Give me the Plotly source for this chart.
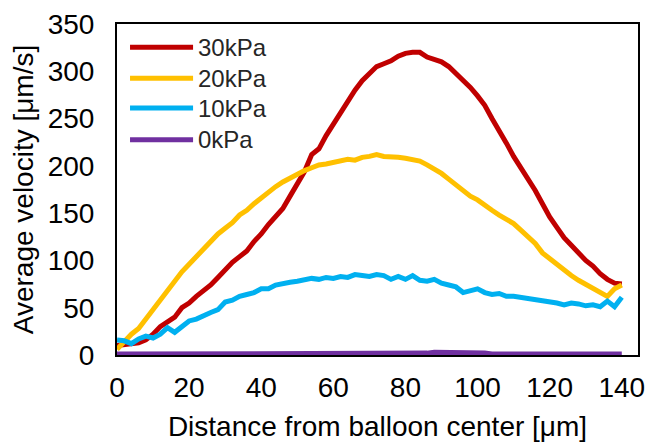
import plotly.graph_objects as go

# Distance from balloon center [μm]
distance = list(range(0, 141, 2))

series_names = ["30kPa", "20kPa", "10kPa", "0kPa"]
series_colors = ["#C00000", "#FFC000", "#00B0F0", "#7030A0"]

v30 = [10, 11, 12, 13, 16, 22, 30, 35, 40, 50, 55, 62, 68, 74, 82, 90, 98, 104, 110, 120,
       128, 138, 146, 155, 168, 180, 194, 212, 218, 232, 244, 258, 268, 280, 290, 298, 305, 308,
       311, 316, 319, 320, 320, 315, 312, 310, 305, 298, 291, 283, 274, 264, 250, 238, 224, 210,
       198, 188, 174, 160, 146, 135, 124, 116, 108, 100, 94, 86, 80, 76, 75]
v20 = [6, 15, 22, 28, 38, 50, 58, 70, 78, 88, 96, 104, 112, 120, 128, 134, 140, 148, 153, 160,
       166, 173, 178, 183, 187, 192, 195, 198, 201, 202, 204, 205, 207, 206, 209, 210, 212, 210,
       210, 209, 208, 207, 205, 201, 197, 192, 186, 180, 174, 168, 164, 158, 153, 148, 143, 139,
       132, 125, 118, 108, 102, 95, 89, 84, 79, 75, 71, 66, 62, 70, 74]
v10 = [16, 15, 12, 17, 20, 18, 22, 29, 24, 30, 36, 38, 42, 45, 48, 56, 58, 62, 64, 66,
       70, 70, 74, 76, 77, 78, 80, 81, 80, 82, 81, 83, 82, 85, 84, 83, 85, 84, 80, 83,
       80, 84, 79, 78, 80, 76, 74, 72, 66, 68, 70, 66, 64, 65, 62, 62, 61, 60, 59, 57,
       56, 55, 53, 55, 54, 52, 53, 51, 57, 51, 61]
v0 = [1, 1, 1, 1, 1, 1, 1, 1, 1, 1, 2, 1, 1, 1, 1, 1, 1, 1, 1, 1,
      1, 1, 1, 1, 1, 1, 1, 1, 1, 1, 1, 1, 1, 1, 1, 1, 1, 1, 1, 1,
      2, 2, 2, 2, 3, 3, 3, 2, 2, 2, 2, 2, 1, 1, 1, 1, 1, 1, 1, 1,
      1, 1, 1, 1, 1, 1, 1, 1, 1, 1, 1]

y_ticks = [0, 50, 100, 150, 200, 250, 300, 350]
x_ticks = [0, 20, 40, 60, 80, 100, 120, 140]

x_title = "Distance from balloon center [μm]"
y_title = "Average velocity [μm/s]"

FONT = "Liberation Sans, Arial, sans-serif"

fig = go.Figure()
all_series = [v30, v20, v10, v0]
for name, color, vals in zip(series_names, series_colors, all_series):
    fig.add_trace(go.Scatter(x=distance, y=vals, mode="lines", name=name,
                             line=dict(color=color, width=5), showlegend=False))

# custom legend (long line samples as in the reference)
leg_y = [0.930, 0.836, 0.746, 0.650]
for name, color, yy in zip(series_names, series_colors, leg_y):
    fig.add_shape(type="line", xref="paper", yref="paper",
                  x0=0.025, x1=0.146, y0=yy, y1=yy,
                  line=dict(color=color, width=5))
    fig.add_annotation(xref="paper", yref="paper", x=0.152, y=yy, text=name,
                       showarrow=False, xanchor="left", yanchor="middle",
                       font=dict(family=FONT, size=24, color="#262626"))

# the page body adds an 8px offset, so the figure is slightly smaller
fig.update_layout(
    width=649, height=436,
    margin=dict(l=109, r=19, t=16, b=89),
    paper_bgcolor="white", plot_bgcolor="white",
    font=dict(family=FONT, color="#000000"),
    showlegend=False,
)
fig.update_xaxes(
    range=[0, 144.5], tickvals=x_ticks, ticktext=[str(t) for t in x_ticks],
    showgrid=False, zeroline=False, showline=True, linecolor="black", linewidth=2,
    mirror=True, ticks="outside", ticklen=6, tickcolor="rgba(0,0,0,0)",
    tickfont=dict(family=FONT, size=28, color="#000000"), automargin=False,
    title=dict(text=x_title, font=dict(family=FONT, size=28, color="#000000"), standoff=15),
)
fig.update_yaxes(
    range=[0, 350], tickvals=y_ticks, ticktext=[str(t) for t in y_ticks],
    showgrid=False, zeroline=False, showline=True, linecolor="black", linewidth=2,
    mirror=True, ticks="outside", ticklen=15, tickcolor="rgba(0,0,0,0)",
    tickfont=dict(family=FONT, size=28, color="#000000"), automargin=False,
    title=dict(text=y_title, font=dict(family=FONT, size=28, color="#000000"), standoff=8),
)

fig.write_html("out.html")
